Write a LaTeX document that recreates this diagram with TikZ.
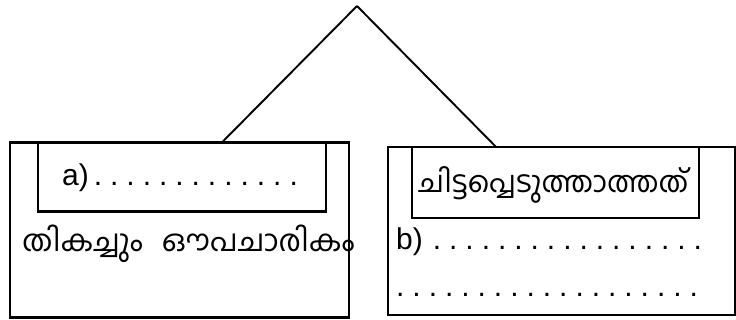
\documentclass[tikz,border=0pt]{standalone}
\usepackage{fontspec}
\setmainfont{Liberation Sans}
\newfontfamily\mlfont[Script=Malayalam]{Hind Kochi}
\usetikzlibrary{calc}
\newcommand\dotrow[1]{\foreach \i in {1,...,#1}{\makebox[16.3pt][c]{.}}}
\begin{document}
\begin{tikzpicture}[x=1pt,y=-1pt,
  box/.style={draw,line width=2.4pt,inner sep=0pt,outer sep=0pt,anchor=north west},
  conn/.style={line width=1.9pt},
  lat/.style={inner sep=0pt,anchor=base west,font=\fontsize{30}{34}\selectfont},
  mal/.style={inner sep=0pt,anchor=base west,font=\mlfont\fontsize{30}{34}\selectfont}]
\useasboundingbox (0,0) rectangle (736,320);
\node[box, minimum width=339pt, minimum height=175pt] (lout) at (10,142.5) {};
\node[box, minimum width=288pt, minimum height=69pt] (lin) at (38,142.5) {};
\node[box, minimum width=347pt, minimum height=168pt] (rout) at (388,147) {};
\node[box, minimum width=287pt, minimum height=71pt] (rin) at (412,147) {};
\coordinate (apex) at (357,6);
\draw[conn] (apex) -- ($(lout.north west)!0.625!(lout.north east)$);
\draw[conn] (apex) -- ($(rin.north west)!0.293!(rin.north east)$);
\node[lat] (ta) at (62,186) {a)\hspace{1pt}\dotrow{13}};
\node[mal] (tm1) at (22,252) {തികച്ചും\hspace{12pt} ഔപചാരികം};
\node[mal, font=\mlfont\fontsize{29.3}{34}\selectfont] (tm2) at (418,193) {ചിട്ടപ്പെടുത്താത്തത്};
\node[lat] (tb) at (396,250) {b)\hspace{6pt}\dotrow{17}};
\node[lat] (tc) at (392,297) {\dotrow{19}};
\end{tikzpicture}
\end{document}
